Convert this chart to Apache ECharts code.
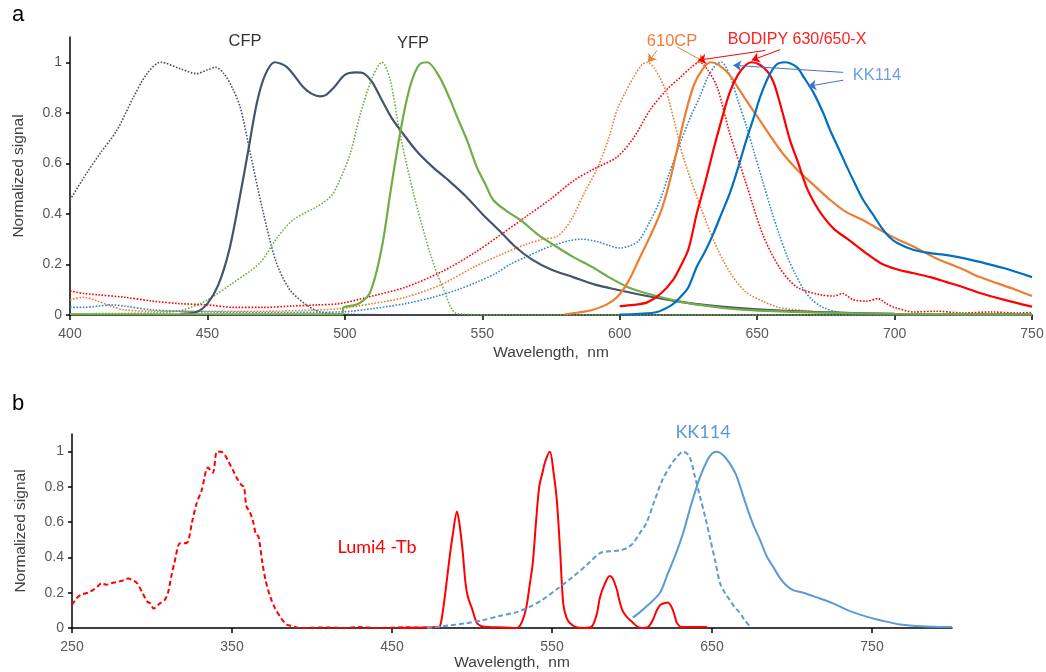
<!DOCTYPE html>
<html><head><meta charset="utf-8">
<script src="https://cdn.jsdelivr.net/npm/echarts@6/dist/echarts.min.js"></script>
<style>html,body{margin:0;padding:0;background:#fff}#c{width:1046px;height:672px}</style>
</head><body><div id="c"></div>
<script>
// ---------- Panel a data (wavelength nm, normalized signal) ----------
const cfpEx = [[400,0.455],[406,0.56],[411,0.64],[417,0.73],[423,0.86],[428,0.955],[433,1.0],[440,0.975],[446,0.955],[450,0.97],[453,0.98],[456,0.955],[459,0.9],[462,0.82],[465,0.67],[470,0.42],[475,0.21],[480,0.1],[486,0.04],[491,0.012],[500,0.003],[550,0],[600,0],[650,0],[700,0],[750,0]];
const cfpEm = [[440,0.005],[446,0.012],[450,0.045],[454,0.12],[458,0.26],[462,0.48],[465,0.66],[468,0.84],[471,0.95],[474.5,1.0],[479,0.98],[485,0.9],[488,0.875],[491,0.865],[493,0.87],[496,0.9],[500,0.95],[504,0.96],[507,0.955],[510,0.92],[513,0.86],[517,0.78],[521,0.72],[526,0.65],[532,0.585],[538,0.53],[544,0.47],[550,0.4],[556,0.336],[562,0.27],[568,0.22],[575,0.18],[583,0.15],[591,0.12],[599,0.1],[610,0.075],[620,0.055],[635,0.035],[650,0.022],[670,0.012],[700,0.005],[750,0.002]];
const yfpEx = [[400,0.005],[430,0.008],[441,0.02],[450,0.06],[459,0.125],[469,0.205],[475,0.3],[481,0.375],[490,0.43],[495,0.47],[498,0.53],[502,0.64],[505.5,0.79],[510,0.94],[513.5,1.0],[516.5,0.93],[520,0.72],[525,0.48],[531,0.245],[536,0.1],[541,0.005],[560,0],[750,0]];
const yfpEm = [[400,0.003],[499,0.003],[499.5,0.03],[504,0.04],[507,0.06],[509,0.085],[511.5,0.17],[514,0.3],[516.5,0.48],[519,0.65],[521.5,0.8],[524,0.915],[527,0.99],[530,1.0],[534.5,0.94],[538,0.86],[541,0.78],[544.5,0.69],[548,0.585],[551,0.52],[554,0.455],[559,0.41],[564,0.375],[570,0.32],[577,0.27],[583,0.23],[590,0.19],[596,0.15],[603,0.11],[610,0.085],[619,0.06],[629,0.04],[646,0.02],[670,0.01],[700,0.005],[750,0.002]];
const bodipyEx = [[400,0.095],[405,0.085],[410,0.08],[420,0.07],[430,0.055],[440,0.045],[450,0.04],[460,0.03],[470,0.03],[480,0.035],[490,0.04],[498,0.045],[510,0.075],[522,0.11],[535,0.17],[547,0.245],[557,0.32],[566,0.39],[575,0.46],[583,0.53],[591,0.58],[599,0.625],[605,0.7],[611,0.81],[617,0.89],[622,0.94],[626,0.98],[629,1.0],[632,0.97],[635.5,0.9],[640,0.72],[646,0.52],[652,0.32],[658,0.19],[664.5,0.11],[673,0.08],[678,0.075],[681,0.085],[685,0.06],[690,0.055],[694,0.065],[697,0.045],[700,0.03],[707,0.012],[715,0.015],[725,0.008],[735,0.012],[745,0.008],[750,0.01]];
const cp610Ex = [[400,0.06],[405,0.07],[410,0.055],[415,0.035],[420,0.02],[430,0.015],[450,0.015],[470,0.015],[490,0.02],[498,0.025],[510,0.045],[522,0.07],[535,0.12],[547,0.19],[557,0.24],[566,0.28],[572,0.3],[577,0.31],[580,0.34],[583,0.39],[587,0.48],[592,0.585],[596,0.7],[599,0.81],[602,0.88],[605,0.94],[608,0.99],[610,1.0],[613,0.97],[617,0.88],[620,0.76],[623,0.63],[628,0.47],[634,0.3],[640,0.17],[646,0.09],[652,0.055],[658,0.03],[670,0.015],[680,0.01],[700,0.003],[750,0]];
const kk114Ex = [[400,0.03],[405,0.03],[410,0.035],[415,0.04],[420,0.035],[430,0.02],[440,0.015],[450,0.012],[470,0.01],[498,0.012],[510,0.025],[522,0.045],[532,0.07],[541,0.1],[548,0.13],[555,0.165],[560,0.2],[566,0.23],[572,0.26],[577,0.28],[582,0.295],[586,0.3],[592,0.29],[596,0.275],[600,0.265],[604,0.275],[607,0.295],[611,0.37],[614.7,0.455],[618,0.56],[622,0.68],[626,0.79],[629,0.86],[632,0.94],[635,0.99],[637,1.0],[640,0.95],[643,0.85],[646,0.75],[649,0.64],[652,0.53],[655,0.42],[658,0.32],[661,0.23],[664,0.16],[667,0.1],[670,0.06],[674,0.03],[680,0.01],[690,0.003],[750,0]];
const cp610Em = [[580,0.003],[585,0.01],[590,0.02],[595,0.04],[599,0.07],[603,0.13],[607,0.22],[611,0.31],[615,0.41],[618,0.52],[621,0.66],[624,0.8],[627,0.91],[630,0.97],[633,1.0],[636,0.99],[640,0.95],[643,0.9],[646,0.85],[651,0.77],[656,0.69],[660,0.63],[665,0.57],[670,0.52],[676.6,0.455],[682,0.41],[688.6,0.375],[695,0.335],[701,0.3],[707,0.27],[715,0.225],[725,0.18],[731,0.15],[737.5,0.125],[744,0.1],[750,0.075]];
const bodipyEm = [[600,0.035],[605,0.04],[610,0.05],[615,0.085],[619.5,0.14],[622,0.19],[625,0.26],[628,0.4],[631,0.52],[634,0.65],[637,0.77],[640,0.88],[643,0.95],[646,0.99],[648,1.0],[651,0.99],[654,0.96],[656,0.92],[658,0.85],[660,0.77],[662,0.69],[665,0.6],[668,0.505],[671,0.44],[674,0.39],[678,0.34],[683,0.3],[689,0.25],[695,0.205],[701,0.18],[707,0.165],[713,0.15],[719,0.13],[725,0.11],[731,0.087],[740,0.06],[750,0.033]];
const kk114Em = [[600,0.002],[607,0.005],[613.6,0.012],[619,0.04],[622,0.07],[625,0.11],[628,0.19],[631,0.25],[634,0.32],[637,0.4],[640,0.48],[643,0.58],[646,0.69],[649,0.79],[651,0.86],[654,0.94],[657,0.99],[660,1.0],[664.5,0.98],[667,0.94],[670.5,0.88],[674,0.8],[676.6,0.73],[680,0.65],[682.7,0.585],[686,0.51],[688.6,0.455],[692,0.4],[695,0.35],[698,0.31],[701,0.285],[707,0.257],[713,0.245],[719,0.237],[725,0.225],[731,0.21],[740,0.185],[750,0.15]];

// ---------- Panel b data ----------
const lumiEx = [[250,0.13],[253,0.17],[256,0.19],[260,0.2],[263,0.215],[266,0.235],[268.5,0.255],[271.5,0.245],[275,0.255],[278,0.26],[282,0.27],[285,0.28],[288,0.27],[290.6,0.255],[294,0.2],[297,0.15],[299,0.14],[301,0.11],[305,0.14],[308,0.16],[310,0.2],[312,0.29],[314,0.37],[317.5,0.48],[320,0.48],[322.5,0.49],[325,0.6],[328,0.71],[331,0.78],[335,0.91],[338,0.88],[340.6,1.0],[343,1.0],[345.6,0.98],[348,0.94],[350.6,0.895],[353,0.85],[356,0.81],[357.5,0.8],[359,0.69],[361,0.66],[363,0.61],[365,0.53],[366.5,0.52],[369,0.37],[371,0.27],[374,0.175],[377,0.11],[380,0.065],[384,0.02],[388,0.01],[392,0],[410,0.003],[420,0],[430,0.005],[440,0],[460,0.004],[475,0]];
const lumiEm = [[455,0],[470,0.003],[478,0.005],[480,0.01],[482,0.11],[484,0.25],[486,0.4],[488,0.53],[490.6,0.66],[492,0.6],[494,0.45],[496,0.25],[497.5,0.175],[500,0.11],[503,0.03],[506,0.01],[510,0.005],[520,0.003],[528,0],[531,0.03],[534,0.12],[536,0.24],[538,0.37],[540,0.6],[542,0.8],[544,0.88],[546,0.95],[548.7,1.0],[551,0.88],[553,0.725],[555,0.45],[557,0.14],[559,0.06],[561,0.03],[565,0.005],[570,0],[575,0.01],[578,0.08],[580,0.175],[583,0.25],[586,0.295],[588,0.28],[590.6,0.215],[592,0.16],[594,0.1],[597,0.06],[600.6,0.03],[603,0.01],[606,0],[610,0.005],[613,0.045],[615,0.09],[617.5,0.13],[620,0.14],[622.5,0.145],[624,0.13],[625.6,0.1],[627,0.06],[628,0.03],[631,0.005],[640,0.005],[647,0.005]];
const kkEx_b = [[472,0],[480,0.008],[486,0.015],[495,0.025],[507,0.045],[518,0.07],[528,0.09],[536,0.12],[544,0.16],[553,0.22],[563,0.29],[572,0.36],[580,0.425],[586,0.435],[592.5,0.44],[597,0.455],[600.6,0.48],[605,0.54],[609,0.595],[614,0.72],[619,0.84],[624,0.92],[628,0.97],[632,1.0],[636,0.97],[639,0.87],[642.5,0.745],[646,0.62],[649,0.5],[652,0.38],[655,0.255],[658,0.2],[661,0.16],[664,0.12],[667.5,0.085],[670,0.05],[674,0.005]];
const kkEm_b = [[600.6,0.06],[605,0.09],[610,0.13],[617.5,0.2],[622,0.3],[627,0.41],[632,0.54],[637,0.7],[642.5,0.855],[647,0.95],[650,0.99],[653,1.0],[657,0.98],[661,0.935],[665,0.87],[668,0.79],[672,0.68],[676,0.58],[680,0.5],[684,0.41],[688,0.35],[692,0.29],[696,0.245],[700.6,0.215],[707,0.2],[715,0.175],[725.6,0.14],[735,0.1],[747,0.063],[757,0.04],[767.5,0.02],[778,0.012],[788,0.007],[800,0.005]];

// ticks
const yTicksMax = 1.1, yInterval = 0.2;
const xA = {min:400, max:750, interval:50};
const xB = {min:250, max:800, interval:100};

// annotation arrows (data coords)
const arrows610 = [[[613.6,1.047],[610.3,1.0]],[[621,1.06],[631,1.0]]];
const arrowsBod = [[[653,1.047],[628.5,1.008]],[[658.4,1.05],[648,1.008]]];
const arrowsKK = [[[681.3,0.96],[641.3,0.988]],[[681.3,0.929],[668.6,0.905]]];

const C = {cfp:'#44546A', green:'#70AD47', orange:'#ED7D31', red:'#FF0000', blue:'#0070C0', blueDot:'#2E86D1', blueB:'#5B9BD5'};
const FONT = 'Liberation Sans, Arial, sans-serif';
const CAL = 'Lato, Open Sans, sans-serif';

function mkArrows(list, color){
  return {silent:true, symbol:['none','arrow'], symbolSize:8, animation:false,
    lineStyle:{color:color, width:1, type:'solid'}, label:{show:false},
    data:list.map(a=>[{coord:a[0]},{coord:a[1]}])};
}
function ln(data, color, type, width, xi, extra){
  const s = {type:'line', data:data, xAxisIndex:xi, yAxisIndex:xi, showSymbol:false, smooth:0.3,
    lineStyle:{color:color, width:width, type:type}, itemStyle:{color:color}, animation:false, clip:false};
  return Object.assign(s, extra||{});
}
function xAxisCfg(idx, x){
  return {type:'value', gridIndex:idx, min:x.min, max:x.max, interval:x.interval,
    name:'Wavelength,  nm', nameLocation:'middle', nameGap: idx===0?30:24,
    nameTextStyle:{color:'#404040', fontSize:15.5, fontFamily:FONT},
    axisLine:{lineStyle:{color:'#000', width:1.5}}, axisTick:{show:true, length:5, lineStyle:{color:'#000', width:1.5}},
    axisLabel:{color:'#595959', fontSize:14, fontFamily:FONT, showMaxLabel: idx===0, margin: idx===0?12:12},
    splitLine:{show:false}};
}
function yAxisCfg(idx){
  return {type:'value', gridIndex:idx, min:0, max:yTicksMax, interval:yInterval,
    name:'Normalized signal', nameLocation:'middle', nameGap:43,
    nameTextStyle:{color:'#404040', fontSize:15.5, fontFamily:FONT},
    axisLine:{show:true, lineStyle:{color:'#000', width:1.5}},
    axisTick:{show:true, length:4, lineStyle:{color:'#000', width:1.5}},
    axisLabel:{color:'#595959', fontSize:14, fontFamily:FONT, showMaxLabel:false, margin:8},
    splitLine:{show:false}};
}
const chart = echarts.init(document.getElementById('c'), null, {renderer:'canvas'});
chart.setOption({
  animation:false,
  backgroundColor:'#fff',
  grid:[{left:70, top:37, width:962, height:278, containLabel:false, outerBoundsMode:'none'},
        {left:72, top:434, width:880, height:194, containLabel:false, outerBoundsMode:'none'}],
  xAxis:[xAxisCfg(0,xA), xAxisCfg(1,xB)],
  yAxis:[yAxisCfg(0), yAxisCfg(1)],
  series:[
    ln(cfpEx, C.cfp, 'dotted', 1.6, 0),
    ln(yfpEx, C.green, 'dotted', 1.6, 0),
    ln(bodipyEx, C.red, 'dotted', 1.6, 0),
    ln(cp610Ex, C.orange, 'dotted', 1.6, 0, {markLine: mkArrows(arrows610, C.orange)}),
    ln(kk114Ex, C.blueDot, 'dotted', 1.6, 0),
    ln(cfpEm, C.cfp, 'solid', 2.2, 0),
    ln(yfpEm, C.green, 'solid', 2.2, 0),
    ln(cp610Em, C.orange, 'solid', 2.2, 0),
    ln(bodipyEm, C.red, 'solid', 2.2, 0, {markLine: mkArrows(arrowsBod, C.red)}),
    ln(kk114Em, C.blue, 'solid', 2.2, 0, {markLine: mkArrows(arrowsKK, '#4472C4')}),
    ln(lumiEx, C.red, [5,3], 2, 1),
    ln(lumiEm, C.red, 'solid', 2, 1),
    ln(kkEx_b, C.blueB, [5,3], 2, 1),
    ln(kkEm_b, C.blueB, 'solid', 2, 1)
  ],
  graphic:[
    {type:'text', left:12, top:4, style:{text:'a', fontSize:22, fontFamily:FONT, fill:'#000'}},
    {type:'text', left:12, top:393, style:{text:'b', fontSize:22, fontFamily:FONT, fill:'#000'}},
    {type:'text', x:245, y:41, style:{text:'CFP', fontSize:16.5, fontFamily:FONT, fill:'#333', align:'center', verticalAlign:'middle'}},
    {type:'text', x:413, y:43, style:{text:'YFP', fontSize:16.5, fontFamily:FONT, fill:'#333', align:'center', verticalAlign:'middle'}},
    {type:'text', x:672, y:41, style:{text:'610CP', fontSize:16.5, fontFamily:FONT, fill:C.orange, align:'center', verticalAlign:'middle'}},
    {type:'text', x:797, y:40, style:{text:'BODIPY 630/650-X', fontSize:16, fontFamily:FONT, fill:'#FF2020', align:'center', verticalAlign:'middle'}},
    {type:'text', x:877, y:75, style:{text:'KK114', fontSize:16.5, fontFamily:FONT, fill:'#6FA0DC', align:'center', verticalAlign:'middle'}},
    {type:'text', x:377, y:547, style:{text:'Lumi4 -Tb', fontSize:18, fontFamily:CAL, fill:'#FF0000', align:'center', verticalAlign:'middle'}},
    {type:'text', x:703, y:432, style:{text:'KK114', fontSize:18, fontFamily:CAL, fill:'#5B9BD5', align:'center', verticalAlign:'middle'}}
  ]
});
</script></body></html>
